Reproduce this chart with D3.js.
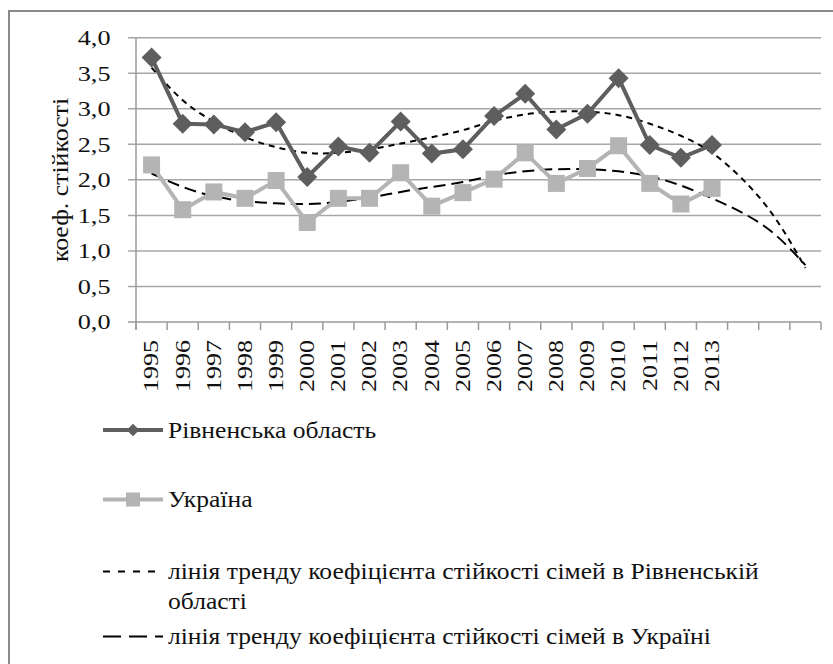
<!DOCTYPE html>
<html><head><meta charset="utf-8">
<script src="https://cdn.jsdelivr.net/npm/d3@7"></script>
<style>body{margin:0;background:#fff}svg{display:block}</style>
</head><body><svg id="c" width="833" height="664" font-family="'Liberation Serif', 'Times New Roman', Times, 'DejaVu Serif', serif"></svg>
<script>
const tickLabels = ["1995","1996","1997","1998","1999","2000","2001","2002","2003","2004","2005","2006","2007","2008","2009","2010","2011","2012","2013","","",""];
const rivne = [3.72,2.79,2.78,2.67,2.81,2.04,2.47,2.38,2.82,2.37,2.43,2.90,3.21,2.71,2.93,3.43,2.49,2.31,2.49];
const ukraine = [2.21,1.58,1.83,1.74,1.99,1.40,1.74,1.74,2.10,1.63,1.82,2.01,2.38,1.95,2.16,2.48,1.95,1.66,1.88];
const rivneTrend = [3.58,3.12,2.82,2.60,2.46,2.38,2.38,2.43,2.51,2.60,2.70,2.83,2.92,2.96,2.96,2.91,2.79,2.62,2.38,2.00,1.48,0.76];
const ukraineTrend = [2.09,1.90,1.77,1.70,1.67,1.66,1.69,1.75,1.83,1.90,1.97,2.06,2.12,2.15,2.15,2.12,2.05,1.92,1.74,1.53,1.24,0.80];
const yTicks = [0,0.5,1,1.5,2,2.5,3,3.5,4];
const yTitle = "коеф. стійкості";
const legendItems = [
  {key:"rivne", lines:["Рівненська область"]},
  {key:"ukraine", lines:["Україна"]},
  {key:"rivneTrend", lines:["лінія тренду коефіцієнта стійкості сімей в Рівненській","області"]},
  {key:"ukraineTrend", lines:["лінія тренду коефіцієнта стійкості сімей в Україні"]}
];

const svg = d3.select("#c");
const L = 136, R = 821, T = 37.7, B = 322;
const x = d3.scaleLinear().domain([0, tickLabels.length]).range([L, R]);
const y = d3.scaleLinear().domain([0, 4]).range([B, T]);
const cx = i => x(i + 0.5);
const txtColor = "#111";

// outer border
svg.append("path").attr("d", `M9,670 L9,11 L840,11`).attr("fill","none").attr("stroke","#8a8a8a").attr("stroke-width",2);

// gridlines + y ticks
svg.append("g").selectAll("line").data(yTicks).join("line")
  .attr("x1", L - 8).attr("x2", R).attr("y1", d => y(d)).attr("y2", d => y(d))
  .attr("stroke", d => d === 0 ? "#9a9a9a" : "#a6a6a6").attr("stroke-width", 1.5);
svg.append("line").attr("x1", L).attr("x2", L).attr("y1", T).attr("y2", B + 8).attr("stroke","#9a9a9a").attr("stroke-width",1.5);
svg.append("g").selectAll("text").data(yTicks).join("text")
  .attr("transform", d => `translate(110.5,${y(d)}) scale(1.22,1)`)
  .attr("dy","0.34em").attr("text-anchor","end").attr("fill",txtColor)
  .attr("font-size", 21.5).text(d => d3.format(".1f")(d).replace(".", ","));

// x ticks at category boundaries
svg.append("g").selectAll("line").data(d3.range(tickLabels.length + 1)).join("line")
  .attr("x1", d => x(d)).attr("x2", d => x(d)).attr("y1", B).attr("y2", B + 8)
  .attr("stroke","#9a9a9a").attr("stroke-width",1.5);
svg.append("g").selectAll("text").data(tickLabels).join("text")
  .attr("transform", (d,i) => `translate(${cx(i)},${B + 18}) rotate(-90) scale(1.3,1)`).attr("fill",txtColor)
  .attr("text-anchor","end").attr("dy","0.34em").attr("font-size", 20).text(d => d);

// y title
svg.append("text").attr("transform","translate(61,180) rotate(-90) scale(1.075,1)").attr("text-anchor","middle").attr("dy","0.3em")
  .attr("fill",txtColor).attr("font-size", 24).text(yTitle);

// trend lines
const trendLine = d3.line().x((d,i) => cx(i)).y(d => y(d)).curve(d3.curveNatural);
svg.append("path").attr("d", trendLine(rivneTrend)).attr("fill","none").attr("stroke","#000").attr("stroke-width",2).attr("stroke-dasharray","6,5");
svg.append("path").attr("d", trendLine(ukraineTrend)).attr("fill","none").attr("stroke","#000").attr("stroke-width",2).attr("stroke-dasharray","12,6");

// series
const line = d3.line().x((d,i) => cx(i)).y(d => y(d));
const cR = "#5e5e5e", cU = "#b4b4b4";
svg.append("path").attr("d", line(ukraine)).attr("fill","none").attr("stroke",cU).attr("stroke-width",4);
svg.append("g").selectAll("rect").data(ukraine).join("rect")
  .attr("x",(d,i)=>cx(i)-8.5).attr("y",d=>y(d)-8.5).attr("width",17).attr("height",17).attr("fill",cU);
svg.append("path").attr("d", line(rivne)).attr("fill","none").attr("stroke",cR).attr("stroke-width",4);
svg.append("g").selectAll("path").data(rivne).join("path")
  .attr("transform",(d,i)=>`translate(${cx(i)},${y(d)}) rotate(45)`)
  .attr("d", d3.symbol().type(d3.symbolSquare).size(200)).attr("fill",cR);

// legend
const lg = svg.append("g");
const lx0 = 103, lx1 = 163, tx = 168;
const rows = [430, 499.5, 571.5, 636.5];
lg.append("line").attr("x1",lx0).attr("x2",lx1).attr("y1",rows[0]).attr("y2",rows[0]).attr("stroke",cR).attr("stroke-width",4);
lg.append("path").attr("transform",`translate(${(lx0+lx1)/2},${rows[0]}) rotate(45)`).attr("d", d3.symbol().type(d3.symbolSquare).size(80)).attr("fill",cR);
lg.append("line").attr("x1",lx0).attr("x2",lx1).attr("y1",rows[1]).attr("y2",rows[1]).attr("stroke",cU).attr("stroke-width",4);
lg.append("rect").attr("x",(lx0+lx1)/2-7).attr("y",rows[1]-7).attr("width",14).attr("height",14).attr("fill",cU);
lg.append("line").attr("x1",lx0).attr("x2",158).attr("y1",rows[2]).attr("y2",rows[2]).attr("stroke","#000").attr("stroke-width",2).attr("stroke-dasharray","7,8");
lg.append("line").attr("x1",lx0).attr("x2",lx1).attr("y1",rows[3]).attr("y2",rows[3]).attr("stroke","#000").attr("stroke-width",2).attr("stroke-dasharray","18,8");
legendItems.forEach((it, k) => {
  const t = lg.append("text").attr("transform", `translate(${tx},${rows[k]}) scale(1.065,1)`).attr("fill",txtColor).attr("font-size", 24);
  it.lines.forEach((s, j) => t.append("tspan").attr("x", 0).attr("dy", j === 0 ? "0.33em" : "30px").text(s));
});
</script></body></html>
